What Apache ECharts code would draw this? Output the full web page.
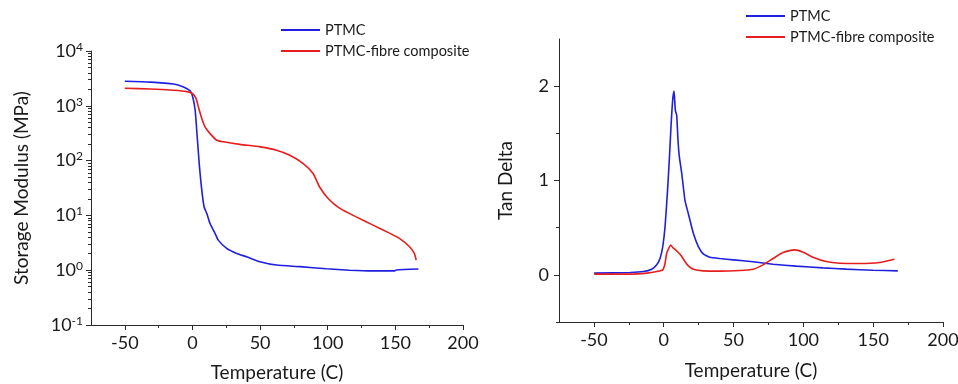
<!DOCTYPE html>
<html><head><meta charset="utf-8">
<script src="https://cdn.jsdelivr.net/npm/echarts@6/dist/echarts.min.js"></script>
<style>html,body{margin:0;padding:0;background:#fff}#c{width:958px;height:384px}</style>
</head><body><div id="c"></div>
<script>
// ---- Data ----
const seriesNames = ['PTMC', 'PTMC-fibre composite'];
// Storage modulus (MPa) vs temperature (C)
const modTempPTMC = [-50,-31,-14,-6.6,-1.7,0.2,2,3.7,5.2,6.9,8.6,10.6,13,16.7,19.2,25.3,32.7,40,49.9,62.2,79.4,99,116,133,149.5,150.7,167];
const modPTMC     = [2800,2700,2500,2200,1870,1450,830,235,77,29,14.4,10.8,7.1,4.7,3.5,2.5,2.02,1.76,1.43,1.24,1.16,1.06,1.0,0.97,0.97,1.01,1.05];
const modTempComp = [-50,-31,-14,-4.2,0.2,2.7,4.4,6.9,9.3,13,18,22.9,35,50,62.2,72,81.9,89.2,94,100.3,109,121,133.5,146,153,160.5,164,165.4];
const modComp     = [2090,2030,1920,1815,1660,1350,950,585,412,311,235,220,198,178,155,125,88,58,33,20.4,13.4,9.4,6.65,4.7,3.8,2.68,2.02,1.53];
// Tan delta vs temperature (C)
const tanTempPTMC = [-49.8,-24,-14.5,-8.6,-5,-2.6,-0.7,0.95,2.6,4,5.2,6.4,7.4,8.3,9.3,10.2,11.2,12.9,15.2,17.6,21.2,24.8,28.3,33,40.2,49.8,64,78.3,95,114,130.7,149.8,167.6];
const tanPTMC     = [0.018,0.025,0.035,0.06,0.106,0.176,0.30,0.51,0.864,1.217,1.57,1.85,1.947,1.746,1.69,1.43,1.25,1.076,0.79,0.65,0.44,0.30,0.222,0.187,0.173,0.159,0.138,0.113,0.092,0.074,0.06,0.049,0.042];
const tanTempComp = [-49.8,-24,-12.1,-5,-0.7,0.95,2.1,3.6,5,6.4,8.1,10.5,12.9,15.2,17.6,21.2,28.3,40.2,54.5,64,71.2,78.3,85.5,93.8,99.8,106.9,116.4,126,140.2,154.5,165.2];
const tanComp     = [0.007,0.007,0.018,0.035,0.053,0.123,0.229,0.28,0.317,0.29,0.27,0.236,0.194,0.141,0.095,0.06,0.042,0.039,0.046,0.06,0.106,0.173,0.236,0.265,0.24,0.187,0.141,0.123,0.12,0.13,0.166];
// Axis ticks
const xMajorTicks = [-50, 0, 50, 100, 150, 200];
const xMinorTicks = [-25, 25, 75, 125, 175];
const tanMajorTicks = [0, 1, 2];
const tanMinorTicks = [-0.5, 0.5, 1.5];
const logMinorMultipliers = [2,3,4,5,6,7,8,9];
const logDecades = [-1, 0, 1, 2, 3];

// ---- Build ----
const zip = (a, b) => a.map((v, i) => [v, b[i]]);
const logMinor = [];
logDecades.forEach(d => logMinorMultipliers.forEach(m => logMinor.push(d + Math.log10(m))));

const FONT = 'Lato';
const BLUE = '#1f1fe0', RED = '#e61e1e', AX = '#2a2a2a', TXT = '#1a1a1a';
const axLine = { show: true, onZero: false, lineStyle: { color: AX, width: 1 } };
const noLine = { show: false, onZero: false };
const lbl = { fontFamily: FONT, fontSize: 18, color: TXT };
const titleStyle = { fontFamily: FONT, fontSize: 19, color: TXT };

const grids = [
  { left: 91, top: 51, width: 372, height: 274, outerBoundsMode: 'none', containLabel: false },
  { left: 559, top: 39, width: 384, height: 283, outerBoundsMode: 'none', containLabel: false }
];

function xMain(gi, gap) {
  return { type: 'value', gridIndex: gi, min: -75, max: 200, interval: 25, position: 'bottom',
    axisLine: axLine, splitLine: { show: false },
    axisTick: { show: true, customValues: xMajorTicks, length: 5, lineStyle: { color: AX } },
    axisLabel: Object.assign({ customValues: xMajorTicks, margin: 9 }, lbl),
    name: 'Temperature (C)', nameLocation: 'middle', nameGap: gap, nameTextStyle: titleStyle };
}
function xMinor(gi) {
  return { type: 'value', gridIndex: gi, min: -75, max: 200, interval: 25, position: 'bottom',
    axisLine: noLine, splitLine: { show: false }, axisLabel: { show: false },
    axisTick: { show: true, customValues: xMinorTicks, length: 3, lineStyle: { color: AX } } };
}

const option = {
  animation: false,
  backgroundColor: '#fff',
  grid: grids,
  legend: [
    { orient: 'vertical', left: 276, top: 17, itemWidth: 39, itemHeight: 2, itemGap: 5, icon: 'rect',
      textStyle: { fontFamily: FONT, fontSize: 14.5, color: TXT, lineHeight: 16 }, data: seriesNames },
    { orient: 'vertical', left: 741, top: 3, itemWidth: 39, itemHeight: 2, itemGap: 5, icon: 'rect',
      textStyle: { fontFamily: FONT, fontSize: 14.5, color: TXT, lineHeight: 16 }, data: seriesNames }
  ],
  xAxis: [ xMain(0, 38), xMinor(0), xMain(1, 39), xMinor(1) ],
  yAxis: [
    { type: 'log', gridIndex: 0, logBase: 10, min: 0.1, max: 10000, interval: 1, position: 'left',
      axisLine: axLine, splitLine: { show: false },
      axisTick: { show: true, length: 5, lineStyle: { color: AX } },
      axisLabel: { margin: 8, formatter: v => '{b|10}{s|' + Math.round(Math.log10(v)) + '}',
        rich: { b: { fontFamily: FONT, fontSize: 18, color: TXT, lineHeight: 20 },
                s: { fontFamily: FONT, fontSize: 12, color: TXT, lineHeight: 20, verticalAlign: 'top', padding: [0,0,10,0] } } },
      name: 'Storage Modulus (MPa)', nameLocation: 'middle', nameGap: 60, nameTextStyle: titleStyle },
    { type: 'value', gridIndex: 0, min: -1, max: 4, interval: 1, position: 'left',
      axisLine: noLine, splitLine: { show: false }, axisLabel: { show: false },
      axisTick: { show: true, customValues: logMinor, length: 3, lineStyle: { color: AX } } },
    { type: 'value', gridIndex: 1, min: -0.5, max: 2.5, interval: 0.5, position: 'left',
      axisLine: axLine, splitLine: { show: false },
      axisTick: { show: true, customValues: tanMajorTicks, length: 5, lineStyle: { color: AX } },
      axisLabel: Object.assign({ customValues: tanMajorTicks, margin: 10 }, lbl),
      name: 'Tan Delta', nameLocation: 'middle', nameGap: 44, nameTextStyle: titleStyle },
    { type: 'value', gridIndex: 1, min: -0.5, max: 2.5, interval: 0.5, position: 'left',
      axisLine: noLine, splitLine: { show: false }, axisLabel: { show: false },
      axisTick: { show: true, customValues: tanMinorTicks, length: 3, lineStyle: { color: AX } } }
  ],
  series: [
    { name: seriesNames[0], type: 'line', xAxisIndex: 0, yAxisIndex: 0, data: zip(modTempPTMC, modPTMC),
      showSymbol: false, smooth: 0.2, color: BLUE, lineStyle: { width: 1.6, color: BLUE } },
    { name: seriesNames[1], type: 'line', xAxisIndex: 0, yAxisIndex: 0, data: zip(modTempComp, modComp),
      showSymbol: false, smooth: 0.2, color: RED, lineStyle: { width: 1.6, color: RED } },
    { name: seriesNames[0], type: 'line', xAxisIndex: 2, yAxisIndex: 2, data: zip(tanTempPTMC, tanPTMC),
      showSymbol: false, smooth: 0.15, color: BLUE, lineStyle: { width: 1.6, color: BLUE } },
    { name: seriesNames[1], type: 'line', xAxisIndex: 2, yAxisIndex: 2, data: zip(tanTempComp, tanComp),
      showSymbol: false, smooth: 0.2, color: RED, lineStyle: { width: 1.6, color: RED } }
  ]
};
const chart = echarts.init(document.getElementById('c'), null, { renderer: 'canvas' });
chart.setOption(option);
</script></body></html>
